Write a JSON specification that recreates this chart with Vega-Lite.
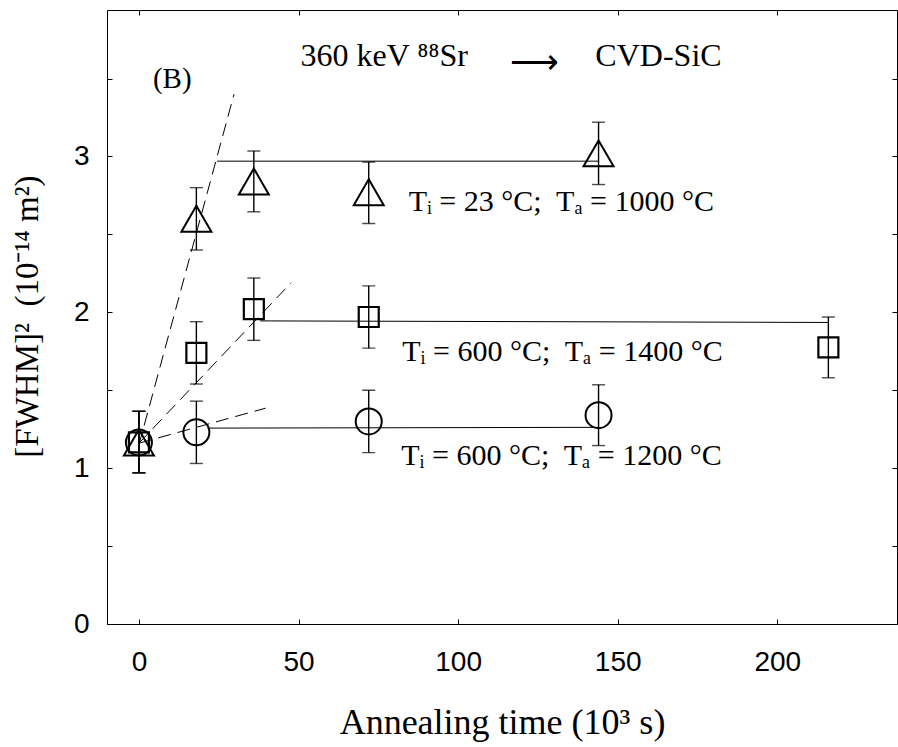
{
  "$schema": "https://vega.github.io/schema/vega-lite/v6.json",
  "width": 790,
  "height": 614,
  "autosize": {"type": "none"},
  "padding": {"left": 107, "top": 10, "right": 1, "bottom": 123},
  "background": "white",
  "config": {
    "view": {"stroke": null},
    "axis": {"grid": false, "domainColor": "black", "tickColor": "black", "labelColor": "black", "titleColor": "black", "domainWidth": 1, "tickWidth": 1}
  },
  "datasets": {
    "pts": [
      {"series": "tri", "t": 0, "w": 1.165, "lo": 0.97, "hi": 1.365},
      {"series": "tri", "t": 18, "w": 2.6, "lo": 2.4, "hi": 2.8},
      {"series": "tri", "t": 36, "w": 2.84, "lo": 2.645, "hi": 3.035},
      {"series": "tri", "t": 72, "w": 2.77, "lo": 2.57, "hi": 2.965},
      {"series": "tri", "t": 144, "w": 3.02, "lo": 2.82, "hi": 3.22},
      {"series": "sq", "t": 0, "w": 1.165, "lo": 0.97, "hi": 1.365},
      {"series": "sq", "t": 18, "w": 1.74, "lo": 1.54, "hi": 1.94},
      {"series": "sq", "t": 36, "w": 2.02, "lo": 1.82, "hi": 2.22},
      {"series": "sq", "t": 72, "w": 1.97, "lo": 1.77, "hi": 2.17},
      {"series": "sq", "t": 216, "w": 1.775, "lo": 1.58, "hi": 1.97},
      {"series": "circ", "t": 0, "w": 1.165, "lo": 0.97, "hi": 1.365},
      {"series": "circ", "t": 18, "w": 1.23, "lo": 1.03, "hi": 1.43},
      {"series": "circ", "t": 72, "w": 1.3, "lo": 1.1, "hi": 1.5},
      {"series": "circ", "t": 144, "w": 1.34, "lo": 1.145, "hi": 1.535}
    ],
    "fits": [
      {"kind": "fit", "series": "tri", "t": 24.5, "w": 2.97},
      {"kind": "fit", "series": "tri", "t": 144, "w": 2.97},
      {"kind": "fit", "series": "sq", "t": 38, "w": 1.945},
      {"kind": "fit", "series": "sq", "t": 216, "w": 1.935},
      {"kind": "fit", "series": "circ", "t": 21.5, "w": 1.257},
      {"kind": "fit", "series": "circ", "t": 144, "w": 1.262},
      {"kind": "init", "series": "tri", "t": 0, "w": 1.15},
      {"kind": "init", "series": "tri", "t": 29.8, "w": 3.4},
      {"kind": "init", "series": "sq", "t": 0, "w": 1.16},
      {"kind": "init", "series": "sq", "t": 47.7, "w": 2.19},
      {"kind": "init", "series": "circ", "t": 0, "w": 1.16},
      {"kind": "init", "series": "circ", "t": 39.7, "w": 1.385}
    ],
    "notes": [
      {"kind": "hdr", "t": 50.6, "w": 3.579, "label": "360 keV ⁸⁸Sr"},
      {"kind": "hdr", "t": 143.0, "w": 3.579, "label": "CVD-SiC"},
      {"kind": "arrow", "t": 123.8, "w": 3.601, "label": "⟶"},
      {"kind": "tag", "t": 4.4, "w": 3.44, "label": "(B)"},
      {"kind": "cond", "t": 84.5, "w": 2.648, "label": "Tᵢ = 23 °C;\u00a0 Tₐ = 1000 °C"},
      {"kind": "cond", "t": 82.5, "w": 1.685, "label": "Tᵢ = 600 °C;\u00a0 Tₐ = 1400 °C"},
      {"kind": "cond", "t": 82.2, "w": 1.021, "label": "Tᵢ = 600 °C;\u00a0 Tₐ = 1200 °C"}
    ]
  },
  "layer": [
    {
      "data": {"name": "fits"},
      "transform": [{"filter": "datum.kind === 'init'"}],
      "mark": {"type": "line", "color": "black", "strokeWidth": 1, "strokeDash": [13, 7]},
      "encoding": {
        "x": {"field": "t", "type": "quantitative", "scale": {"domain": [-10, 237.5], "nice": false, "zero": false},
          "axis": {"orient": "bottom", "values": [0, 50, 100, 150, 200], "tickSize": -5, "labelPadding": 29, "labelFont": "Liberation Sans", "labelFontSize": 28,
            "title": "Annealing time (10³ s)", "titleFont": "Liberation Serif", "titleFontSize": 36, "titleFontWeight": "normal", "titleX": 395, "titleY": 109, "titleBaseline": "alphabetic", "titleAlign": "center"}},
        "y": {"field": "w", "type": "quantitative", "scale": {"domain": [0, 3.94], "nice": false, "zero": false},
          "axis": {"orient": "left", "values": [0, 0.5, 1, 1.5, 2, 2.5, 3, 3.5], "labelExpr": "datum.value % 1 === 0 ? format(datum.value, 'd') : ''", "tickSize": -5, "labelPadding": 23, "labelFont": "Liberation Sans", "labelFontSize": 28,
            "title": "[FWHM]²\u00a0 (10⁻¹⁴ m²)", "titleFont": "Liberation Serif", "titleFontSize": 33, "titleFontWeight": "normal", "titleX": -70, "titleY": 306, "titleAngle": 270, "titleBaseline": "alphabetic", "titleAlign": "center"}},
        "detail": {"field": "series"},
        "order": {"field": "t", "type": "quantitative"}
      }
    },
    {
      "data": {"name": "fits"},
      "transform": [{"filter": "datum.kind === 'fit'"}],
      "mark": {"type": "line", "color": "black", "strokeWidth": 1},
      "encoding": {
        "x": {"field": "t", "type": "quantitative", "scale": {"domain": [-10, 237.5], "nice": false, "zero": false},
          "axis": {"orient": "top", "values": [0, 50, 100, 150, 200], "tickSize": -5, "labels": false, "title": null}},
        "y": {"field": "w", "type": "quantitative", "scale": {"domain": [0, 3.94], "nice": false, "zero": false},
          "axis": {"orient": "right", "values": [0, 0.5, 1, 1.5, 2, 2.5, 3, 3.5], "tickSize": -5, "labels": false, "title": null}},
        "detail": {"field": "series"},
        "order": {"field": "t", "type": "quantitative"}
      }
    },
    {
      "data": {"name": "pts"},
      "mark": {"type": "rule", "color": "black", "strokeWidth": 1.4},
      "encoding": {
        "x": {"field": "t", "type": "quantitative", "axis": null},
        "y": {"field": "lo", "type": "quantitative", "axis": null},
        "y2": {"field": "hi"}
      }
    },
    {
      "data": {"name": "pts"},
      "mark": {"type": "tick", "orient": "horizontal", "color": "black", "size": 13, "thickness": 1.4},
      "encoding": {
        "x": {"field": "t", "type": "quantitative", "axis": null},
        "y": {"field": "lo", "type": "quantitative", "axis": null}
      }
    },
    {
      "data": {"name": "pts"},
      "mark": {"type": "tick", "orient": "horizontal", "color": "black", "size": 13, "thickness": 1.4},
      "encoding": {
        "x": {"field": "t", "type": "quantitative", "axis": null},
        "y": {"field": "hi", "type": "quantitative", "axis": null}
      }
    },
    {
      "data": {"name": "pts"},
      "transform": [{"filter": "datum.series === 'tri'"}],
      "mark": {"type": "point", "shape": "triangle-up", "size": 900, "filled": false, "stroke": "black", "strokeWidth": 2, "opacity": 1},
      "encoding": {
        "x": {"field": "t", "type": "quantitative", "axis": null},
        "y": {"field": "w", "type": "quantitative", "axis": null}
      }
    },
    {
      "data": {"name": "pts"},
      "transform": [{"filter": "datum.series === 'sq'"}],
      "mark": {"type": "point", "shape": "square", "size": 400, "filled": false, "stroke": "black", "strokeWidth": 2.2, "opacity": 1},
      "encoding": {
        "x": {"field": "t", "type": "quantitative", "axis": null},
        "y": {"field": "w", "type": "quantitative", "axis": null}
      }
    },
    {
      "data": {"name": "pts"},
      "transform": [{"filter": "datum.series === 'circ'"}],
      "mark": {"type": "point", "shape": "circle", "size": 676, "filled": false, "stroke": "black", "strokeWidth": 2, "opacity": 1},
      "encoding": {
        "x": {"field": "t", "type": "quantitative", "axis": null},
        "y": {"field": "w", "type": "quantitative", "axis": null}
      }
    },
    {
      "data": {"name": "notes"},
      "transform": [{"filter": "datum.kind === 'hdr'"}],
      "mark": {"type": "text", "font": "Liberation Serif", "fontSize": 32, "align": "left", "baseline": "alphabetic", "color": "black"},
      "encoding": {
        "x": {"field": "t", "type": "quantitative", "axis": null},
        "y": {"field": "w", "type": "quantitative", "axis": null},
        "text": {"field": "label"}
      }
    },
    {
      "data": {"name": "notes"},
      "transform": [{"filter": "datum.kind === 'arrow'"}],
      "mark": {"type": "text", "font": "DejaVu Sans", "fontSize": 34, "fontWeight": 200, "align": "center", "baseline": "middle", "color": "black"},
      "encoding": {
        "x": {"field": "t", "type": "quantitative", "axis": null},
        "y": {"field": "w", "type": "quantitative", "axis": null},
        "text": {"field": "label"}
      }
    },
    {
      "data": {"name": "notes"},
      "transform": [{"filter": "datum.kind === 'tag'"}],
      "mark": {"type": "text", "font": "Liberation Serif", "fontSize": 29, "align": "left", "baseline": "alphabetic", "color": "black"},
      "encoding": {
        "x": {"field": "t", "type": "quantitative", "axis": null},
        "y": {"field": "w", "type": "quantitative", "axis": null},
        "text": {"field": "label"}
      }
    },
    {
      "data": {"name": "notes"},
      "transform": [{"filter": "datum.kind === 'cond'"}],
      "mark": {"type": "text", "font": "Liberation Serif", "fontSize": 30, "align": "left", "baseline": "alphabetic", "color": "black"},
      "encoding": {
        "x": {"field": "t", "type": "quantitative", "axis": null},
        "y": {"field": "w", "type": "quantitative", "axis": null},
        "text": {"field": "label"}
      }
    }
  ],
  "resolve": {"axis": {"x": "independent", "y": "independent"}}
}
